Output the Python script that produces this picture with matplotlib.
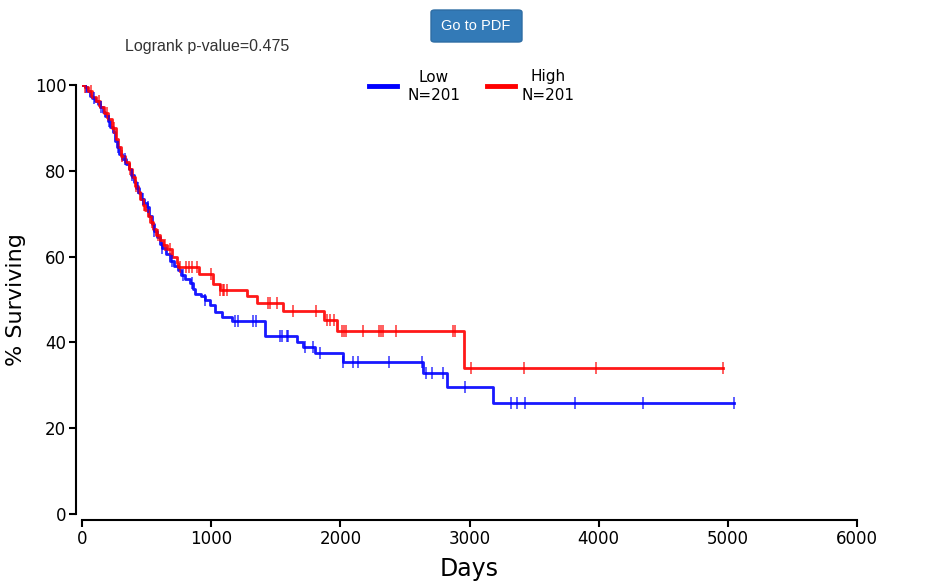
import numpy as np
import matplotlib
matplotlib.use('Agg')
import matplotlib.pyplot as plt
from matplotlib.patches import FancyBboxPatch
from matplotlib.lines import Line2D

# Low group: step times (days) and % surviving after each step
low_t = [0, 20, 40, 60, 80, 100, 120, 140, 160, 180, 200, 220, 240, 255, 270, 290,
         310, 340, 360, 380, 400, 420, 440, 460, 480, 500, 520, 540, 560, 580, 600,
         620, 650, 680, 710, 740, 770, 800, 836, 860, 875, 920, 952, 991, 1030, 1084,
         1161, 1417, 1662, 1713, 1804, 2018, 2637, 2828, 3184, 5048]
low_s = [100, 99.5, 98.5, 97.5, 97, 96.3, 95.5, 94.8, 93.8, 92.8, 91.6, 90.3, 89, 87,
         85.5, 84, 82.8, 81.5, 80.5, 79, 77.5, 76, 74.8, 73.5, 72.5, 71.5, 69.5, 67.5,
         66, 64.5, 63, 62, 60.5, 59, 57.8, 56.8, 55.8, 54.8, 53.8, 52.5, 51.3, 50.8,
         49.9, 48.7, 47.1, 45.9, 45.0, 41.5, 40.2, 39.0, 37.5, 35.4, 32.9, 29.5, 25.8, 25.8]
low_cens = [30, 95, 150, 210, 275, 330, 390, 430, 470, 510, 560, 620, 700, 780, 850,
            952, 1185, 1210, 1326, 1347, 1533, 1546, 1585, 1597, 1726, 1788, 1842, 2023,
            2100, 2139, 2379, 2630, 2663, 2707, 2792, 2965, 3319, 3365, 3432, 3819, 4346,
            5048]

# High group
high_t = [0, 20, 50, 80, 110, 140, 170, 200, 230, 260, 280, 300, 330, 360, 390, 410,
          430, 450, 470, 490, 510, 530, 550, 575, 600, 630, 656, 700, 733, 746, 908,
          1012, 1068, 1275, 1352, 1559, 1873, 1972, 2957, 4965]
high_s = [100, 99.5, 98.5, 97.3, 96.2, 94.8, 93.5, 92, 90, 87.5, 85.5, 83.5, 82, 80.5,
          78.5, 76.5, 75, 73.5, 72, 70.8, 69.5, 68, 66.5, 65, 63.8, 62.6, 61.7, 60.0,
          58.4, 57.5, 55.9, 53.5, 52.1, 50.7, 49.1, 47.3, 45.2, 42.7, 34.0, 34.0]
high_cens = [25, 70, 130, 190, 250, 310, 370, 420, 480, 540, 590, 640, 680, 759, 805,
             831, 849, 888, 999, 1068, 1089, 1102, 1120, 1443, 1455, 1512, 1636, 1809,
             1894, 1920, 1951, 2010, 2028, 2044, 2178, 2299, 2315, 2328, 2429, 2875, 2888,
             3011, 3422, 3979, 4965]

groups = [('Low', 'N=201', low_t, low_s, low_cens, '#0000ff'),
          ('High', 'N=201', high_t, high_s, high_cens, '#ff0000')]

W, H = 930, 587
fig = plt.figure(figsize=(W / 100, H / 100), dpi=100)
ax = fig.add_axes([82 / W, 1 - 514 / H, 775 / W, 429 / H])

for name, n, t, s, cens, col in groups:
    t = np.array(t, dtype=float)
    s = np.array(s, dtype=float)
    ax.step(t, s, where='post', color=col, lw=2, alpha=0.9, zorder=3)
    c = np.array(cens, dtype=float)
    idx = np.searchsorted(t, c, side='right') - 1
    ax.plot(c, s[idx], linestyle='none', marker='|', markersize=8, mew=1.1,
            color=col, alpha=0.8, zorder=4)

ax.set_xlim(0, 6000)
ax.set_ylim(0, 100)
ax.set_xticks(range(0, 6001, 1000))
ax.set_yticks(range(0, 101, 20))
for side in ['top', 'right']:
    ax.spines[side].set_visible(False)
for side in ['left', 'bottom']:
    ax.spines[side].set_position(('outward', 4.3))
    ax.spines[side].set_linewidth(1.5)
ax.tick_params(length=5, width=1.5, labelsize=12, pad=2)
ax.set_xlabel('Days', fontsize=17, labelpad=7)
ax.set_ylabel('% Surviving', fontsize=16, labelpad=6)

# legend drawn by hand
for (name, n, t, s, cens, col), lx, tx in zip(groups, [369, 487], [434, 548]):
    fig.add_artist(Line2D([lx / W, (lx + 28) / W], [1 - 86 / H] * 2, color=col, lw=3.5))
    fig.text(tx / W, 1 - 77 / H, name, fontsize=11, ha='center', va='center')
    fig.text(tx / W, 1 - 96 / H, n, fontsize=11, ha='center', va='center')

fig.text(207 / W, 1 - 47 / H, 'Logrank p-value=0.475', fontsize=11.5, color='#333333',
         family='Liberation Sans', ha='center', va='center')

btn = FancyBboxPatch((431 / W, 1 - 42 / H), 91 / W, 32 / H,
                     boxstyle='round,pad=0,rounding_size=0.004',
                     transform=fig.transFigure, facecolor='#337ab7',
                     edgecolor='#2e6da4', lw=1)
fig.add_artist(btn)
fig.text(476 / W, 1 - 26 / H, 'Go to PDF', fontsize=10.5, color='white',
         family='Liberation Sans', ha='center', va='center')

fig.savefig('out.png', dpi=100)
